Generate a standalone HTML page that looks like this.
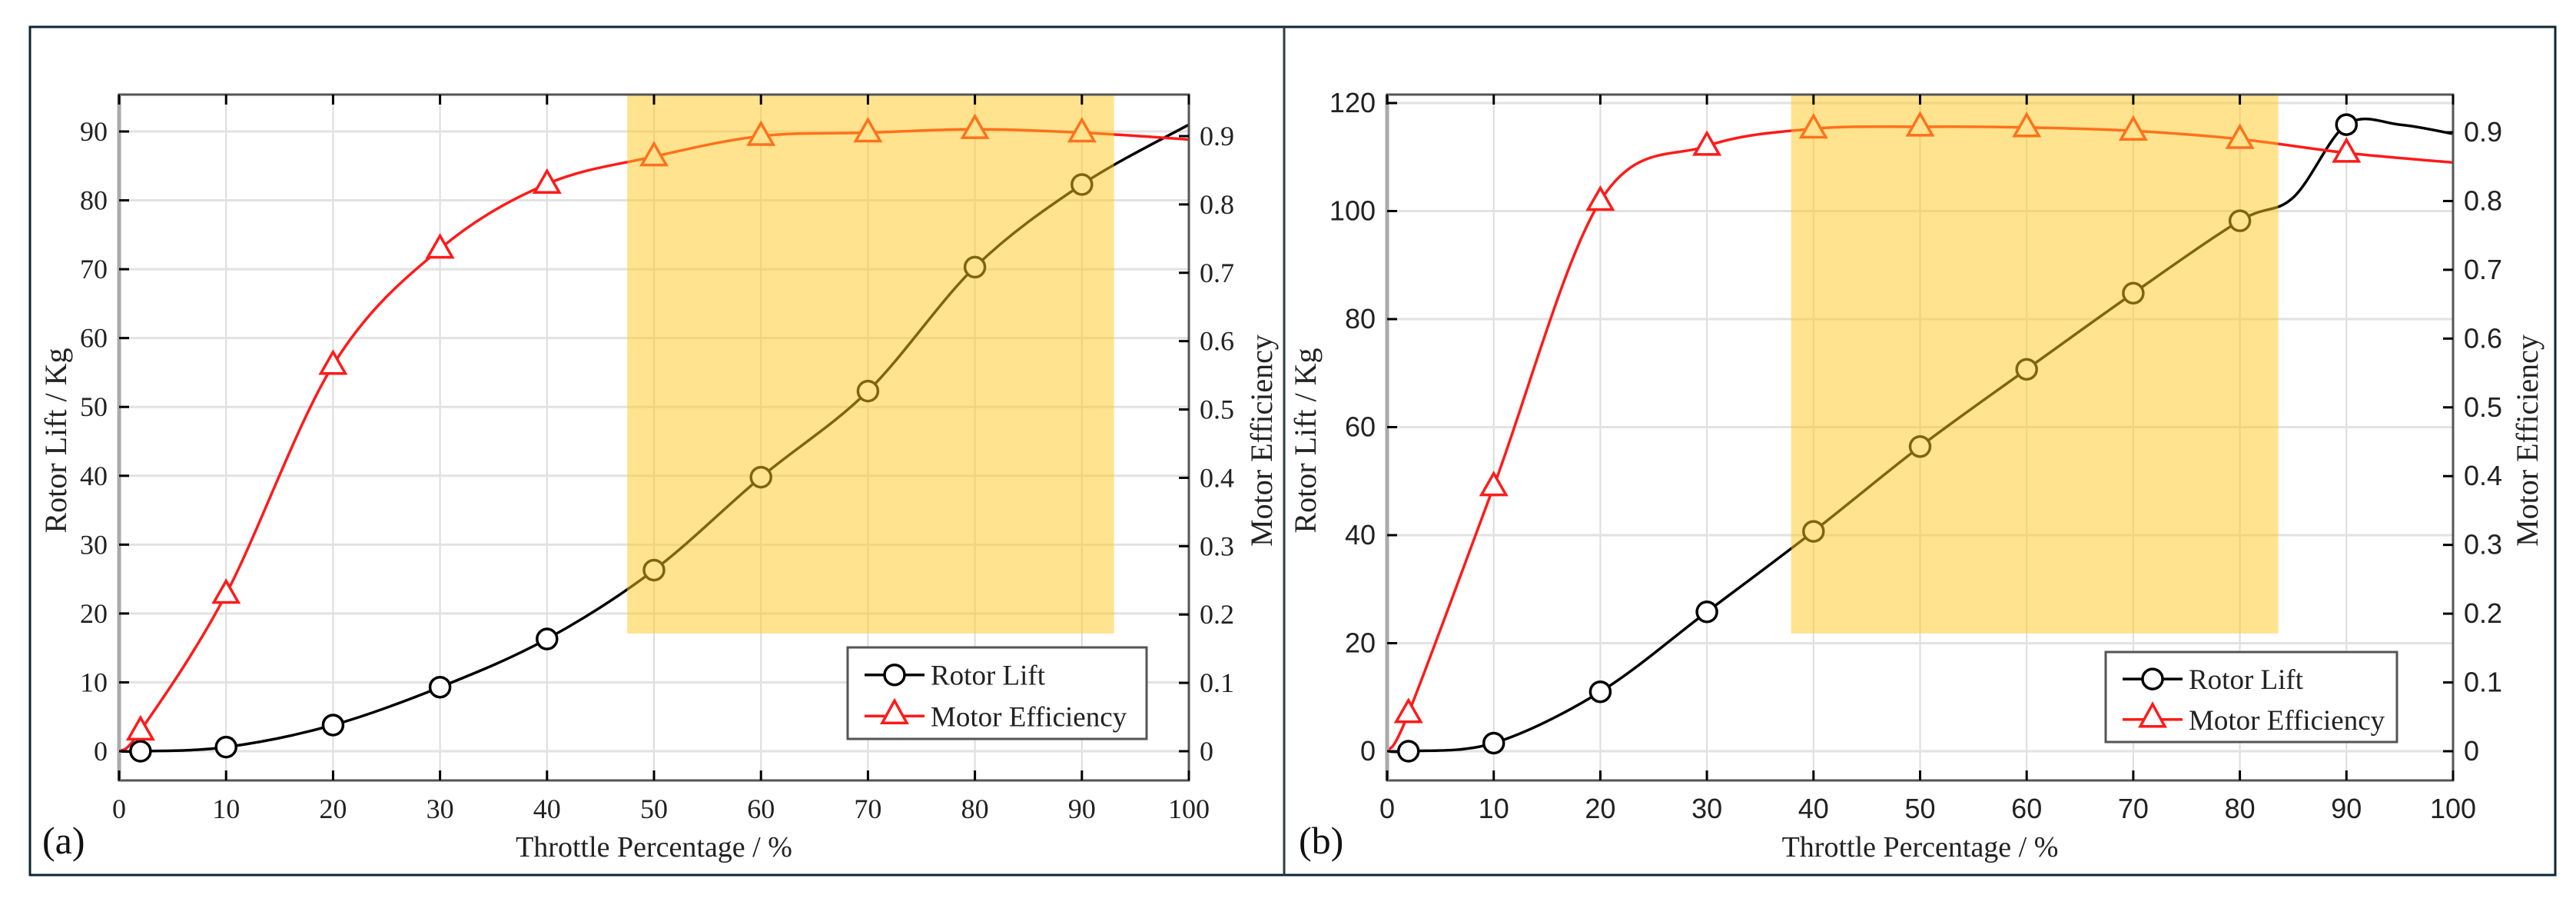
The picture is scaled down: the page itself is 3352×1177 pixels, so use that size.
<!DOCTYPE html>
<html><head><meta charset="utf-8">
<style>
html,body{margin:0;padding:0;background:#fff;}
svg{display:block;}
.serif{font-family:"Liberation Serif",serif;}
.sans{font-family:"Liberation Sans",sans-serif;}
</style></head>
<body>
<svg id="fig" width="3352" height="1177" viewBox="0 0 3352 1177" xmlns="http://www.w3.org/2000/svg">
<rect x="39" y="35" width="3286" height="1103" fill="#fff" stroke="#0e2630" stroke-width="3"/>
<line x1="1671" y1="35" x2="1671" y2="1138" stroke="#2a3e48" stroke-width="3"/>
</svg>
<script>
// ---- Panel (a) data ----
const aLiftX = [0, 2, 10, 20, 30, 40, 50, 60, 70, 80, 90, 100];
const aLiftY = [0, 0, 0.6, 3.8, 9.3, 16.3, 26.3, 39.8, 52.3, 70.3, 82.3, 91];
const aEffX = [0, 2, 10, 20, 30, 40, 50, 60, 70, 80, 90, 100];
const aEffY = [0, 0.03, 0.23, 0.565, 0.735, 0.83, 0.87, 0.90, 0.905, 0.91, 0.905, 0.895];
const aMarkX = [2, 10, 20, 30, 40, 50, 60, 70, 80, 90];
const aLeftTicks = [0, 10, 20, 30, 40, 50, 60, 70, 80, 90];
const aShade = [47.5, 93, 17.1];
// ---- Panel (b) data ----
const bLiftX = [0, 2, 10, 20, 30, 40, 50, 60, 70, 80, 85, 90, 95, 100];
const bLiftY = [0, 0, 1.5, 11, 25.8, 40.7, 56.4, 70.7, 84.8, 98.2, 102.5, 116, 116, 114.3];
const bEffX = [0, 2, 10, 20, 30, 40, 50, 60, 70, 80, 90, 100];
const bEffY = [0, 0.055, 0.385, 0.80, 0.88, 0.905, 0.908, 0.907, 0.902, 0.89, 0.87, 0.856];
const bMarkX = [2, 10, 20, 30, 40, 50, 60, 70, 80, 90];
const bLeftTicks = [0, 20, 40, 60, 80, 100, 120];
const bShade = [37.9, 83.6, 21.8];
const xTicks = [0, 10, 20, 30, 40, 50, 60, 70, 80, 90, 100];
const rightTicks = [0, 0.1, 0.2, 0.3, 0.4, 0.5, 0.6, 0.7, 0.8, 0.9];

const NS = "http://www.w3.org/2000/svg";
const svg = document.getElementById('fig');
function mk(tag, attrs, parent){
  const e = document.createElementNS(NS, tag);
  for (const k in attrs) e.setAttribute(k, attrs[k]);
  (parent || svg).appendChild(e);
  return e;
}
function smoothPath(pts){
  let d = `M${pts[0][0]},${pts[0][1]}`;
  for (let i = 0; i < pts.length - 1; i++){
    const p0 = pts[Math.max(0,i-1)], p1 = pts[i], p2 = pts[i+1], p3 = pts[Math.min(pts.length-1,i+2)];
    const t = 1/6;
    const c1x = p1[0] + (p2[0]-p0[0])*t, c1y = p1[1] + (p2[1]-p0[1])*t;
    const c2x = p2[0] - (p3[0]-p1[0])*t, c2y = p2[1] - (p3[1]-p1[1])*t;
    d += ` C${c1x},${c1y} ${c2x},${c2y} ${p2[0]},${p2[1]}`;
  }
  return d;
}

function panel(cfg){
  const g = mk('g', {});
  
  
  const X = v => cfg.x0 + (cfg.x1 - cfg.x0) * v / 100;
  const YL = v => cfg.yb - (cfg.yb - cfg.yTopRef) * v / cfg.leftRef;
  const YR = v => cfg.yb - (cfg.yb - cfg.rTopRef) * v / 0.9;
  const tickFont = cfg.tickClass;
  xTicks.forEach(t => {
    const l = mk('line', {x1:X(t), x2:X(t), y1:cfg.top, y2:cfg.bottom, stroke:'#dcdcdc', 'stroke-width':2}, g);
    
    
  });
  cfg.leftTicks.forEach(t => {
    const l = mk('line', {x1:cfg.x0, x2:cfg.x1, y1:YL(t), y2:YL(t), stroke:'#e2e2e2', 'stroke-width':3}, g);
    
    
  });
  const liftPts = cfg.liftX.map((x,i)=>[X(x), YL(cfg.liftY[i])]);
  const effPts = cfg.effX.map((x,i)=>[X(x), YR(cfg.effY[i])]);
  const lp = mk('path', {d:smoothPath(liftPts), fill:'none', stroke:'#000', 'stroke-width':3.5}, g);
  
  
  const ep = mk('path', {d:smoothPath(effPts), fill:'none', stroke:'#ff1a1a', 'stroke-width':3.5}, g);
  
  
  cfg.markX.forEach(mx => {
    const i = cfg.liftX.indexOf(mx);
    const c = mk('circle', {cx:X(mx), cy:YL(cfg.liftY[i]), r:13, fill:'#fff', stroke:'#000', 'stroke-width':3.5}, g);
    
    
    const j = cfg.effX.indexOf(mx);
    const cx = X(mx), cy = YR(cfg.effY[j]);
    const tr = mk('polygon', {points:`${cx},${cy-17} ${cx-16},${cy+11} ${cx+16},${cy+11}`, fill:'#fff', stroke:'#ff1a1a', 'stroke-width':3.5}, g);
    
    
  });
  const sh = mk('rect', {x:X(cfg.shade[0]), y:cfg.top, width:X(cfg.shade[1])-X(cfg.shade[0]), height:YL(cfg.shade[2])-cfg.top, fill:'rgb(255,200,30)', 'fill-opacity':0.5}, g);
  
  
  const box = mk('rect', {x:cfg.x0, y:cfg.top, width:cfg.x1-cfg.x0, height:cfg.bottom-cfg.top, fill:'none', stroke:'#555', 'stroke-width':3}, g);
  
  
  const la = mk('line', {x1:cfg.x0, x2:cfg.x0, y1:cfg.top, y2:cfg.bottom, stroke:'#aaa', 'stroke-width':5}, g);
  
  
  xTicks.forEach(t => {
    const tk = mk('line', {x1:X(t), x2:X(t), y1:cfg.bottom, y2:cfg.bottom-13, stroke:'#000', 'stroke-width':3}, g);
    
    
    const tk2 = mk('line', {x1:X(t), x2:X(t), y1:cfg.top, y2:cfg.top+13, stroke:'#000', 'stroke-width':3}, g);
    
    
    const tx = mk('text', {x:X(t), y:1064, 'text-anchor':'middle', 'font-size':36, fill:'#222', class:tickFont}, g);
    tx.textContent = t;
    
    
  });
  cfg.leftTicks.forEach(t => {
    const tk = mk('line', {x1:cfg.x0, x2:cfg.x0+13, y1:YL(t), y2:YL(t), stroke:'#000', 'stroke-width':3}, g);
    
    
    const tx = mk('text', {x:cfg.x0-15, y:YL(t)+12, 'text-anchor':'end', 'font-size':36, fill:'#222', class:tickFont}, g);
    tx.textContent = t;
    
    
  });
  rightTicks.forEach(t => {
    const tk = mk('line', {x1:cfg.x1, x2:cfg.x1-13, y1:YR(t), y2:YR(t), stroke:'#000', 'stroke-width':3}, g);
    
    
    const tx = mk('text', {x:cfg.x1+14, y:YR(t)+12, 'text-anchor':'start', 'font-size':36, fill:'#222', class:tickFont}, g);
    tx.textContent = t === 0 ? '0' : t.toFixed(1);
    
    
  });
  const xt = mk('text', {x:(cfg.x0+cfg.x1)/2, y:1114, 'text-anchor':'middle', 'font-size':38, fill:'#222', class:'serif'}, g);
  xt.textContent = 'Throttle Percentage / %';
  
  
  const yt = mk('text', {x:0, y:0, 'text-anchor':'middle', 'font-size':40, fill:'#222', class:'serif', transform:`translate(${cfg.ylx},573) rotate(-90)`}, g);
  yt.textContent = 'Rotor Lift / Kg';
  
  
  const rt = mk('text', {x:0, y:0, 'text-anchor':'middle', 'font-size':40, fill:'#222', class:'serif', transform:`translate(${cfg.yrx},573) rotate(-90)`}, g);
  rt.textContent = 'Motor Efficiency';
  
  
  const pl = mk('text', {x:cfg.plx, y:1110, 'font-size':50, fill:'#111', class:'serif'}, g);
  pl.textContent = cfg.label;
  
  
  const L = cfg.legend;
  const lg = mk('g', {}, g);
  
  
  mk('rect', {x:L[0], y:L[1], width:L[2], height:L[3], fill:'#fff', stroke:'#555', 'stroke-width':3}, lg);
  const r1 = L[1] + L[3]*0.3, r2 = L[1] + L[3]*0.75;
  const e1 = mk('g', {}, lg);
  
  
  mk('line', {x1:L[0]+22, x2:L[0]+100, y1:r1, y2:r1, stroke:'#000', 'stroke-width':3.5}, e1);
  mk('circle', {cx:L[0]+61, cy:r1, r:13, fill:'#fff', stroke:'#000', 'stroke-width':3.5}, e1);
  const t1 = mk('text', {x:L[0]+108, y:r1+13, 'font-size':37, fill:'#222', class:'serif'}, e1);
  t1.textContent = 'Rotor Lift';
  const e2 = mk('g', {}, lg);
  
  
  mk('line', {x1:L[0]+22, x2:L[0]+100, y1:r2, y2:r2, stroke:'#ff1a1a', 'stroke-width':3.5}, e2);
  mk('polygon', {points:`${L[0]+61},${r2-20} ${L[0]+45},${r2+9} ${L[0]+77},${r2+9}`, fill:'#fff', stroke:'#ff1a1a', 'stroke-width':3.5}, e2);
  const t2 = mk('text', {x:L[0]+108, y:r2+13, 'font-size':37, fill:'#222', class:'serif'}, e2);
  t2.textContent = 'Motor Efficiency';
}

panel({name:'panel-a', label:'(a)', plx:55, x0:155, x1:1547, top:123, bottom:1015,
  yb:977, yTopRef:171, leftRef:90, rTopRef:177,
  liftX:aLiftX, liftY:aLiftY, effX:aEffX, effY:aEffY, markX:aMarkX,
  leftTicks:aLeftTicks, shade:aShade, tickClass:'serif', ylx:86, yrx:1655,
  legend:[1103, 842, 389, 119]});
panel({name:'panel-b', label:'(b)', plx:1690, x0:1805, x1:3192, top:123, bottom:1015,
  yb:977, yTopRef:134, leftRef:120, rTopRef:172,
  liftX:bLiftX, liftY:bLiftY, effX:bEffX, effY:bEffY, markX:bMarkX,
  leftTicks:bLeftTicks, shade:bShade, tickClass:'sans', ylx:1712, yrx:3302,
  legend:[2740, 848, 379, 117]});
</script>
</body></html>
